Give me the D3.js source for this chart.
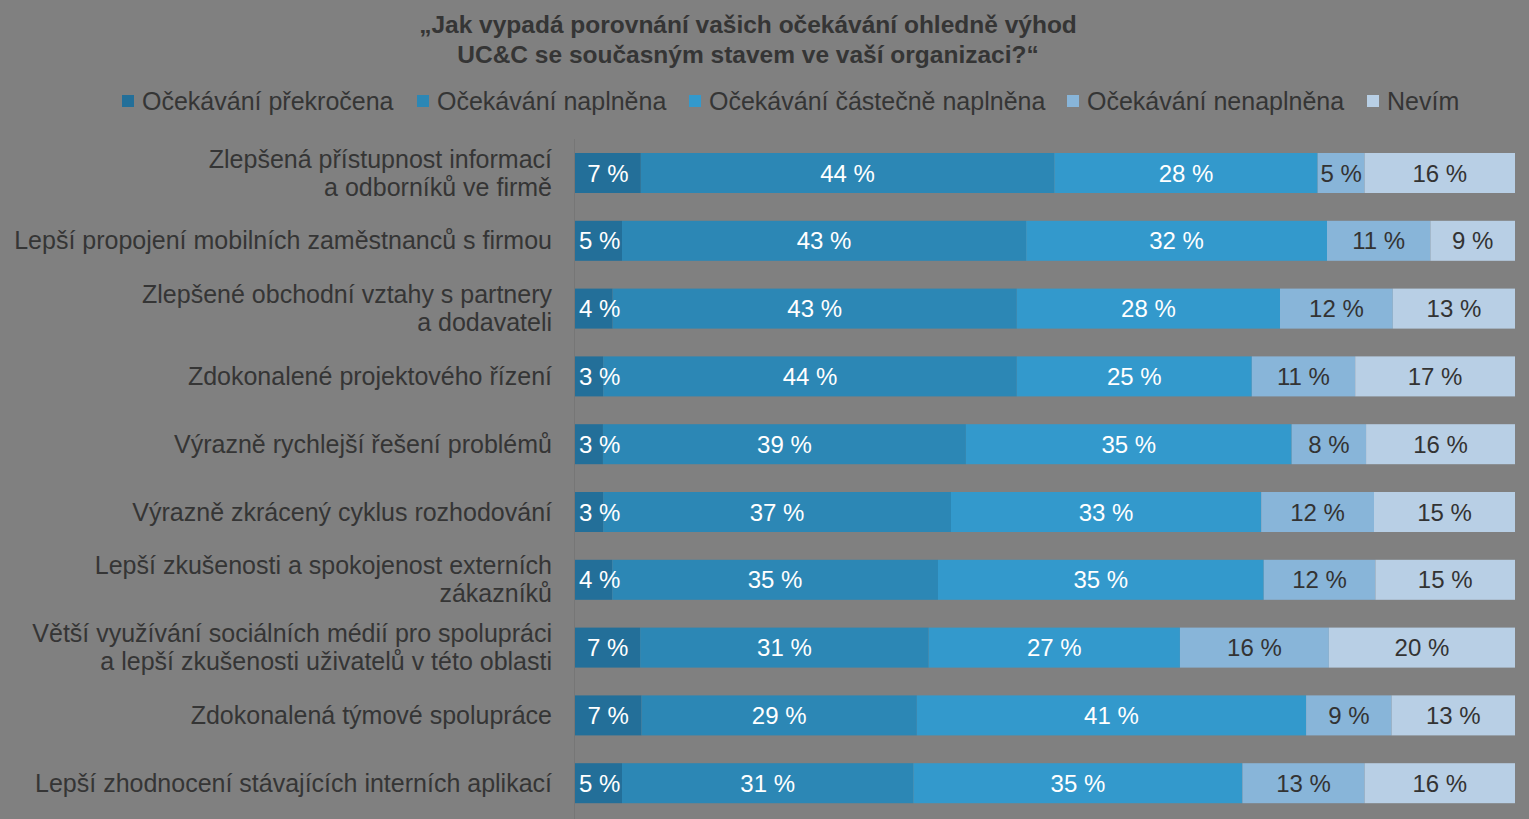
<!DOCTYPE html>
<html><head><meta charset="utf-8">
<script src="https://cdn.jsdelivr.net/npm/d3@7"></script>
<style>
html,body{margin:0;padding:0;background:#808080;}
svg{display:block;font-family:"Liberation Sans",Arial,sans-serif;}
</style></head>
<body>
<svg id="chart" width="1529" height="819"></svg>
<script>
const titleLines = ["„Jak vypadá porovnání vašich očekávání ohledně výhod", "UC&C se současným stavem ve vaší organizaci?“"];
const seriesNames = ["Očekávání překročena", "Očekávání naplněna", "Očekávání částečně naplněna", "Očekávání nenaplněna", "Nevím"];
const seriesColors = ["#236f99", "#2c87b5", "#3399cc", "#88b5d9", "#b8cfe5"];
const labelColors = ["#ffffff", "#ffffff", "#ffffff", "#333333", "#333333"];
const categories = [
  ["Zlepšená přístupnost informací", "a odborníků ve firmě"],
  ["Lepší propojení mobilních zaměstnanců s firmou"],
  ["Zlepšené obchodní vztahy s partnery", "a dodavateli"],
  ["Zdokonalené projektového řízení"],
  ["Výrazně rychlejší řešení problémů"],
  ["Výrazně zkrácený cyklus rozhodování"],
  ["Lepší zkušenosti a spokojenost externích", "zákazníků"],
  ["Větší využívání sociálních médií pro spolupráci", "a lepší zkušenosti uživatelů v této oblasti"],
  ["Zdokonalená týmové spolupráce"],
  ["Lepší zhodnocení stávajících interních aplikací"]
];
const exceeded   = [7, 5, 4, 3, 3, 3, 4, 7, 7, 5];
const fulfilled  = [44, 43, 43, 44, 39, 37, 35, 31, 29, 31];
const partial    = [28, 32, 28, 25, 35, 33, 35, 27, 41, 35];
const notMet     = [5, 11, 12, 11, 8, 12, 12, 16, 9, 13];
const dontKnow   = [16, 9, 13, 17, 16, 15, 15, 20, 13, 16];
const seriesValues = [exceeded, fulfilled, partial, notMet, dontKnow];

const svg = d3.select("#chart");
const textColor = "#353535";

// Title
svg.append("text").attr("text-anchor", "middle")
  .attr("font-size", 24.5).attr("font-weight", "bold").attr("fill", textColor)
  .selectAll("tspan").data(titleLines).join("tspan")
  .attr("x", 748).attr("y", (d, i) => 33 + i * 30).text(d => d);

// Legend
const legendX = [122, 417, 689, 1067, 1367];
const lg = svg.append("g");
seriesNames.forEach((name, i) => {
  lg.append("rect").attr("x", legendX[i]).attr("y", 95).attr("width", 12).attr("height", 12).attr("fill", seriesColors[i]);
  lg.append("text").attr("x", legendX[i] + 20).attr("y", 110).attr("font-size", 25).attr("fill", textColor).text(name);
});

// Scales
const idx = d3.range(categories.length);
const y = d3.scaleBand().domain(idx).range([139.1, 817.1]).paddingInner(0.41).paddingOuter(0.205);
const x = d3.scaleLinear().domain([0, 1]).range([575, 1515]);

// axis line
svg.append("line").attr("x1", 574.5).attr("x2", 574.5).attr("y1", 139).attr("y2", 819)
  .attr("stroke", "#767676").attr("stroke-width", 1);

// Stack
const rows = idx.map(i => {
  const vals = seriesValues.map(s => s[i]);
  const total = d3.sum(vals);
  let acc = 0;
  return vals.map((v, k) => { const s = acc; acc += v; return {row: i, k, v, x0: s / total, x1: acc / total}; });
});

const g = svg.append("g");
rows.forEach(segs => {
  segs.forEach(s => {
    g.append("rect").attr("x", x(s.x0)).attr("y", y(s.row))
      .attr("width", x(s.x1) - x(s.x0)).attr("height", y.bandwidth())
      .attr("fill", seriesColors[s.k]);
  });
});
rows.forEach(segs => {
  segs.forEach(s => {
    const t = g.append("text").attr("y", y(s.row) + y.bandwidth() / 2 + 8.5)
      .attr("text-anchor", "middle").attr("font-size", 24).attr("fill", labelColors[s.k])
      .text(s.v + " %");
    const w = t.node().getComputedTextLength();
    let cx = (x(s.x0) + x(s.x1)) / 2;
    cx = Math.max(cx, x(0) + w / 2 + 4);
    t.attr("x", cx);
  });
});

// Category labels
idx.forEach(i => {
  const lines = categories[i];
  const cy = y(i) + y.bandwidth() / 2;
  const t = svg.append("text").attr("text-anchor", "end").attr("font-size", 25).attr("fill", textColor);
  const lh = 28;
  const startY = cy - (lines.length - 1) * lh / 2 + 8.5;
  lines.forEach((l, j) => {
    t.append("tspan").attr("x", 552).attr("y", startY + j * lh).text(l);
  });
});
</script>
</body></html>
